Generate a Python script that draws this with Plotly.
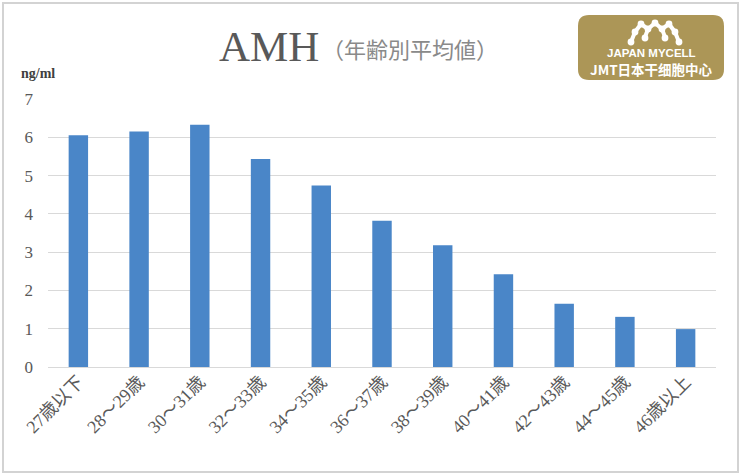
import plotly.graph_objects as go

categories = ["27歳以下", "28～29歳", "30～31歳", "32～33歳", "34～35歳", "36～37歳",
              "38～39歳", "40～41歳", "42～43歳", "44～45歳", "46歳以上"]
values = [6.05, 6.15, 6.33, 5.43, 4.74, 3.82, 3.18, 2.42, 1.65, 1.31, 0.99]
y_ticks = [0, 1, 2, 3, 4, 5, 6, 7]

W, H = 742, 476
L, R, T, B = 48, 716, 99, 367


def px(x):
    return (x - L) / (R - L)


def py(y):
    return (B - y) / (B - T)


fig = go.Figure(go.Bar(x=categories, y=values, marker=dict(color="#4a86c8", line=dict(width=0))))

shapes = []
# outer frame
shapes.append(dict(type="rect", xref="paper", yref="paper", x0=px(3), x1=px(738), y0=py(472), y1=py(3),
                   line=dict(color="#d3d3d3", width=2), fillcolor="rgba(0,0,0,0)"))

# logo rounded rectangle
x0, x1, y0, y1, r = 578, 724, 15, 80, 11
path = (f"M {px(x0 + r)} {py(y0)} L {px(x1 - r)} {py(y0)} "
        f"Q {px(x1)} {py(y0)} {px(x1)} {py(y0 + r)} L {px(x1)} {py(y1 - r)} "
        f"Q {px(x1)} {py(y1)} {px(x1 - r)} {py(y1)} L {px(x0 + r)} {py(y1)} "
        f"Q {px(x0)} {py(y1)} {px(x0)} {py(y1 - r)} L {px(x0)} {py(y0 + r)} "
        f"Q {px(x0)} {py(y0)} {px(x0 + r)} {py(y0)} Z")
shapes.append(dict(type="path", xref="paper", yref="paper", path=path, fillcolor="#ac9657",
                   line=dict(width=0)))

# logo icon (white molecule arch)
nodes = [(631, 42), (635, 32), (641, 24), (648, 29), (655, 23), (662, 29), (669, 24), (675, 32), (679, 42)]
legs = [((648, 29), (645, 37)), ((662, 29), (665, 37))]
for (ax, ay), (bx, by) in list(zip(nodes[:-1], nodes[1:])) + legs:
    shapes.append(dict(type="line", xref="paper", yref="paper", x0=px(ax), y0=py(ay), x1=px(bx), y1=py(by),
                       line=dict(color="white", width=4)))
for (cx, cy) in nodes + [(645, 38), (665, 38)]:
    rr = 3.4
    shapes.append(dict(type="circle", xref="paper", yref="paper", x0=px(cx - rr), x1=px(cx + rr),
                       y0=py(cy + rr), y1=py(cy - rr), fillcolor="white", line=dict(width=0)))

annotations = [
    dict(text="AMH", x=px(217), y=py(46), xref="paper", yref="paper", xanchor="left", yanchor="middle",
         showarrow=False, font=dict(family="Liberation Serif", size=43, color="#595959")),
    dict(text="（年齢別平均値）", x=px(320), y=py(48), xref="paper", yref="paper", xanchor="left",
         yanchor="middle", showarrow=False,
         font=dict(family="Noto Sans CJK JP", size=22, color="#8a8a8a")),
    dict(text="<b>ng/ml</b>", x=px(19), y=py(73), xref="paper", yref="paper", xanchor="left",
         yanchor="middle", showarrow=False, font=dict(family="Liberation Serif", size=14, color="#404040")),
    dict(text="<b>JAPAN MYCELL</b>", x=px(651), y=py(53), xref="paper", yref="paper", xanchor="center",
         yanchor="middle", showarrow=False, font=dict(family="Liberation Sans", size=11.5, color="white")),
    dict(text="<b>JMT日本干细胞中心</b>", x=px(651), y=py(69), xref="paper", yref="paper", xanchor="center",
         yanchor="middle", showarrow=False, font=dict(family="Noto Sans CJK SC", size=13.5, color="white")),
]

fig.update_layout(
    width=W, height=H,
    margin=dict(l=L, r=W - R, t=T, b=H - B, autoexpand=False),
    paper_bgcolor="white", plot_bgcolor="white",
    bargap=0.68,
    showlegend=False,
    shapes=shapes,
    annotations=annotations,
    xaxis=dict(tickangle=-45, showgrid=False, showline=False, ticks="",
               tickfont=dict(family="Liberation Serif, Noto Sans CJK JP", size=18, color="#595959")),
    yaxis=dict(range=[0, 7], tickvals=y_ticks, showgrid=True, gridcolor="#d9d9d9", gridwidth=1,
               zeroline=True, zerolinecolor="#d9d9d9", zerolinewidth=1, showline=False, ticks="",
               ticklabelstandoff=14,
               tickfont=dict(family="Liberation Serif", size=17, color="#595959")),
)

fig.write_html("out.html", config={"displayModeBar": False},
               post_script="document.body.style.margin='0';document.body.style.overflow='hidden';")
